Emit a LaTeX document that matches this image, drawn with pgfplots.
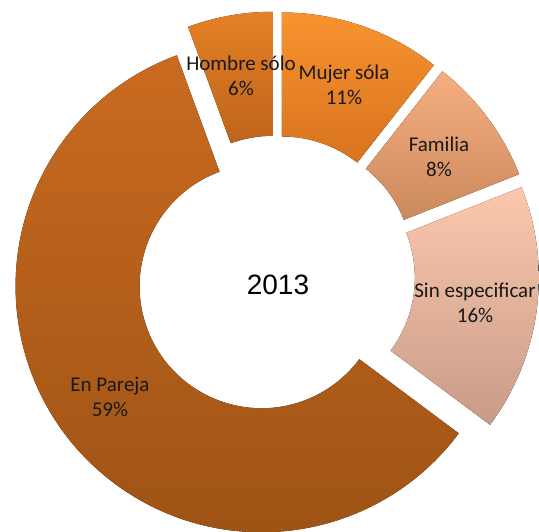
\documentclass[border=0pt]{standalone}
\usepackage{pgfplots}
\pgfplotsset{compat=1.18}
\usepackage{fontspec}
\newfontfamily\calibri{Carlito}
\newfontfamily\arial{Liberation Sans}
\definecolor{mujT}{HTML}{F8932F}
\definecolor{mujB}{HTML}{D8731F}
\definecolor{homT}{HTML}{E58026}
\definecolor{homB}{HTML}{BE641B}
\definecolor{famT}{HTML}{F6AE80}
\definecolor{famB}{HTML}{CB895D}
\definecolor{sinT}{HTML}{FCC8AD}
\definecolor{sinB}{HTML}{C89B88}
\definecolor{parT}{HTML}{CA6A20}
\definecolor{parB}{HTML}{9B5214}
% centre of the ring (axis units = pt), radii
\def\Cx{276}\def\Cy{256.5}\def\Ro{246}\def\Ri{122}
\newcommand\slice[5]{% start %, value %, top colour, bottom colour, explode
  \pgfmathsetmacro\aS{3.6*(#1)}%
  \pgfmathsetmacro\aE{3.6*(#1+#2)}%
  \pgfmathsetmacro\aM{(\aS+\aE)/2}%
  \pgfmathsetmacro\cx{\Cx+#5*sin(\aM)}%
  \pgfmathsetmacro\cy{\Cy+#5*cos(\aM)}%
  \pgfmathsetmacro\xa{\cx+\Ro*sin(\aS)}%
  \pgfmathsetmacro\ya{\cy+\Ro*cos(\aS)}%
  \pgfmathsetmacro\xb{\cx+\Ri*sin(\aE)}%
  \pgfmathsetmacro\yb{\cy+\Ri*cos(\aE)}%
  \pgfmathsetmacro\tS{90-\aS}%
  \pgfmathsetmacro\tE{90-\aE}%
  \edef\tmp{\noexpand\fill[top color=#3,bottom color=#4,draw=none]
    (axis cs:\xa,\ya) arc[start angle=\tS,end angle=\tE,radius=\Ro pt]
    -- (axis cs:\xb,\yb) arc[start angle=\tE,end angle=\tS,radius=\Ri pt] -- cycle;}%
  \tmp
}
\begin{document}
\begin{tikzpicture}
\begin{axis}[
  width=539pt, height=532pt, scale only axis,
  xmin=0, xmax=539, ymin=0, ymax=532,
  hide axis,
]
\path (axis cs:0,0) rectangle (axis cs:539,532);
% shares (%): Mujer 10.6, Familia 8.4, Sin especificar 16.2, En Pareja 59.2, Hombre 5.6
\slice{0}{10.6}{mujT}{mujB}{18}
\slice{10.6}{8.4}{famT}{famB}{18}
\slice{19}{16.2}{sinT}{sinB}{17}
\slice{35.2}{59.2}{parT}{parB}{18}
\slice{94.4}{5.6}{homT}{homB}{18}
\node[font=\calibri\fontsize{21}{25}\selectfont, align=center, text=black!90] at (axis cs:241,456) {Hombre sólo\\6\%};
\node[font=\calibri\fontsize{21}{25}\selectfont, align=center, text=black!90] at (axis cs:344,447) {Mujer sóla\\11\%};
\node[font=\calibri\fontsize{21}{25}\selectfont, align=center, text=black!90] at (axis cs:439,375) {Familia\\8\%};
\node[font=\calibri\fontsize{21}{25}\selectfont, align=center, text=black!90] at (axis cs:475,229) {Sin especificar\\16\%};
\node[font=\calibri\fontsize{21}{25}\selectfont, align=center, text=black!90] at (axis cs:110,135) {En Pareja\\59\%};
\node[font=\arial\fontsize{28}{32}\selectfont] at (axis cs:278,247) {2013};
\end{axis}
\end{tikzpicture}
\end{document}
